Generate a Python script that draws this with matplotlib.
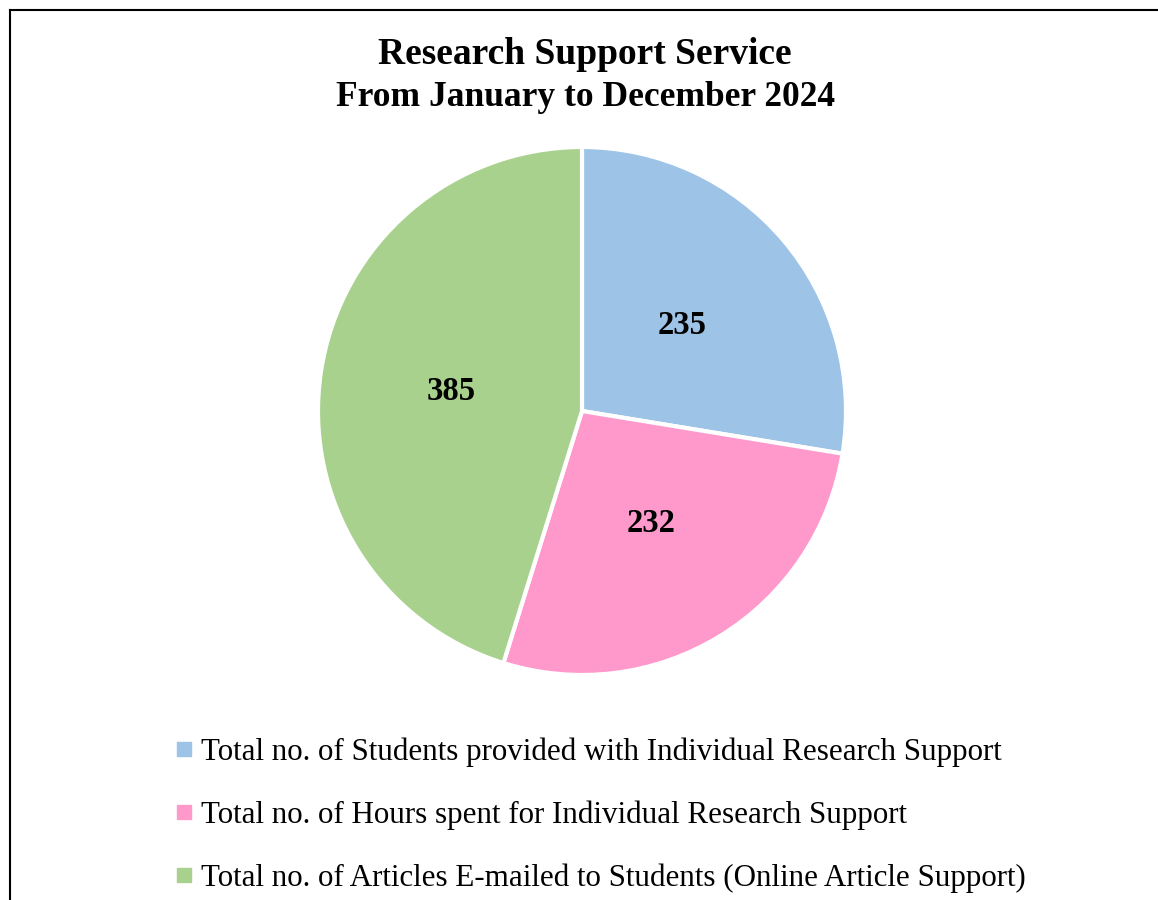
import numpy as np
import matplotlib.pyplot as plt
from matplotlib.lines import Line2D

categories = ["Total no. of Students provided with Individual Research Support",
              "Total no. of Hours spent for Individual Research Support",
              "Total no. of Articles E-mailed to Students (Online Article Support)"]
values = [235, 232, 385]
colors = ["#9DC3E6", "#FF99CC", "#A9D18E"]

plt.rcParams['font.family'] = ['Liberation Serif', 'DejaVu Serif']

W, H = 1158, 900
fig = plt.figure(figsize=(W / 100, H / 100), dpi=100)

# pie axes: centre (582, 411), radius ~264 px
cx, cy, r = 582, 411, 264
ax = fig.add_axes([(cx - r) / W, 1 - (cy + r) / H, 2 * r / W, 2 * r / H])
wedges, _ = ax.pie(values, colors=colors, startangle=90, counterclock=False,
                   wedgeprops=dict(edgecolor='white', linewidth=3))
ax.set_xlim(-1, 1)
ax.set_ylim(-1, 1)
ax.set_aspect('equal')

total = sum(values)
start = 90
for v in values:
    ang = np.deg2rad(start - v / total * 360 / 2)
    ax.text(0.5 * np.cos(ang), 0.5 * np.sin(ang), str(v), ha='center', va='center',
            fontsize=23.5, fontweight='bold')
    start -= v / total * 360

fig.text(585 / W, 1 - 54 / H, "Research Support Service", ha='center', va='center',
         fontsize=27, fontweight='bold')
fig.text(585 / W, 1 - 98 / H, "From January to December 2024", ha='center', va='center',
         fontsize=25.5, fontweight='bold')

handles = [Line2D([], [], marker='s', linestyle='none', markersize=10,
                  markerfacecolor=c, markeredgecolor=c) for c in colors]
fig.legend(handles, categories, loc='upper left', bbox_to_anchor=(153 / W, 1 - 722 / H),
           frameon=False, fontsize=22.3, handletextpad=0.05, labelspacing=1.08,
           handlelength=1.0, borderpad=0)

# partial frame (left and top edges)
fig.add_artist(Line2D([9.5 / W, 9.5 / W], [0, 1 - 10 / H], transform=fig.transFigure,
                      color='black', linewidth=1.5))
fig.add_artist(Line2D([9.5 / W, 1], [1 - 10 / H, 1 - 10 / H], transform=fig.transFigure,
                      color='black', linewidth=1.5))

fig.savefig("out.png", dpi=100)
